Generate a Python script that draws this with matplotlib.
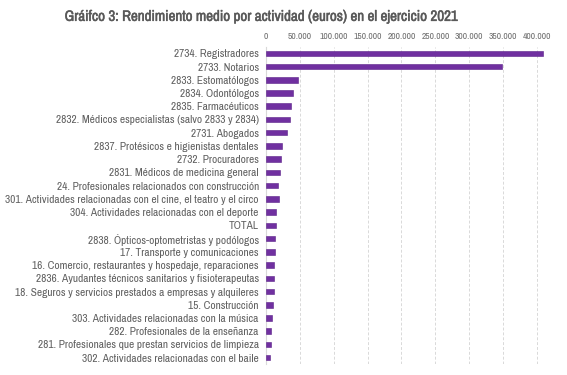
import matplotlib.pyplot as plt
import matplotlib.patheffects as pe
from matplotlib.ticker import FuncFormatter

labels = [
    '2734. Registradores',
    '2733. Notarios',
    '2833. Estomatólogos',
    '2834. Odontólogos',
    '2835. Farmacéuticos',
    '2832. Médicos especialistas (salvo 2833 y 2834)',
    '2731. Abogados',
    '2837. Protésicos e higienistas dentales',
    '2732. Procuradores',
    '2831. Médicos de medicina general',
    '24. Profesionales relacionados con construcción',
    '301. Actividades relacionadas con el cine, el teatro y el circo',
    '304. Actividades relacionadas con el deporte',
    'TOTAL',
    '2838. Ópticos-optometristas y podólogos',
    '17. Transporte y comunicaciones',
    '16. Comercio, restaurantes y hospedaje, reparaciones',
    '2836. Ayudantes técnicos sanitarios y fisioterapeutas',
    '18. Seguros y servicios prestados a empresas y alquileres',
    '15. Construcción',
    '303. Actividades relacionadas con la música',
    '282. Profesionales de la enseñanza',
    '281. Profesionales que prestan servicios de limpieza',
    '302. Actividades relacionadas con el baile',
]
values = [408800, 348500, 47100, 40700, 37300, 36300, 30900, 24000, 23000, 21500,
          18600, 19100, 15600, 15900, 13200, 13200, 12700, 12700, 11700, 10300,
          9300, 7400, 7400, 5900]
ticks = [0, 50000, 100000, 150000, 200000, 250000, 300000, 350000, 400000]

plt.rcParams['font.family'] = ['Archivo Narrow', 'Liberation Sans', 'DejaVu Sans']
grey = '#595959'

fig = plt.figure(figsize=(5.67, 3.75), dpi=100)
ax = fig.add_axes([0.4686, 0.0285, 0.496, 0.847])

y = list(range(len(labels)))
ax.barh(y, values, height=0.42, color='#7030A0', edgecolor='#5b2188', linewidth=0.4, zorder=3)
ax.set_ylim(len(labels) - 0.5, -0.5)
ax.set_xlim(0, 414300)
ax.set_yticks(y)
ax.set_yticklabels(labels, fontsize=8.2, color='#606060')
ax.set_xticks(ticks)
ax.xaxis.set_major_formatter(FuncFormatter(lambda v, p: f'{int(v):,}'.replace(',', '.')))
ax.xaxis.tick_top()
ax.tick_params(axis='x', labelsize=6.8, labelcolor='#707070', length=0, pad=4)
ax.tick_params(axis='y', length=0, pad=5)
ax.grid(axis='x', color='#d9d9d9', linestyle=(0, (3, 2)), linewidth=0.7, zorder=0)
for s in ['top', 'right', 'bottom']:
    ax.spines[s].set_visible(False)
ax.spines['left'].set_color('#d9d9d9')
ax.spines['left'].set_linewidth(0.8)

fig.text(0.461, 0.955, 'Gráifco 3: Rendimiento medio por actividad (euros) en el ejercicio 2021',
         ha='center', va='center', fontsize=10.8, color=grey,
         path_effects=[pe.Stroke(linewidth=0.35, foreground=grey), pe.Normal()])

fig.savefig('out.png', dpi=100)
